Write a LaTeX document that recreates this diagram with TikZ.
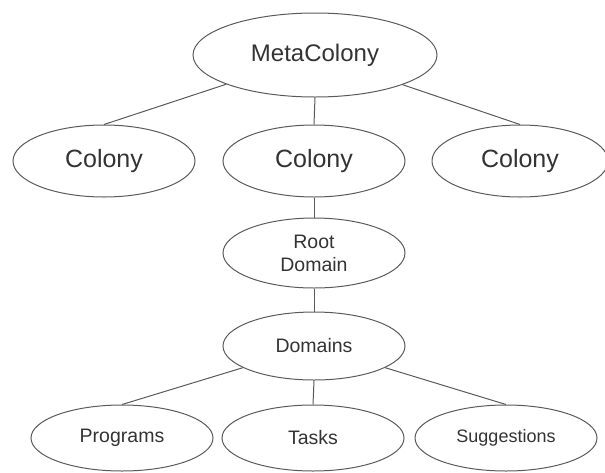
\documentclass[tikz,border=0pt]{standalone}
\usepackage{fontspec}
\setmainfont{Liberation Sans}
\usetikzlibrary{shapes,positioning}
\definecolor{lineGray}{HTML}{5A5A5A}
\definecolor{textGray}{HTML}{333333}
\tikzstyle{colonyTree} = [
  x=1pt,
  y=-1pt,
  line width=1pt,
  draw=lineGray,
  every node/.style = {
    shape=ellipse,
    draw=lineGray,
    text=textGray,
    align=center,
    inner sep=0pt,
    minimum width=182pt,
    minimum height=70pt,
    font=\fontsize{19.5}{23}\selectfont,},
  ]
\tikzstyle{topNode} = [
  minimum width=244pt,
  minimum height=84pt,
  font=\fontsize{24}{28}\selectfont]
\tikzstyle{colonyNode} = [
  minimum height=72pt,
  font=\fontsize{25}{29}\selectfont]

\begin{document}
\begin{tikzpicture}[colonyTree]
  \useasboundingbox (0,0) rectangle (605,472);
  \node[topNode] (meta) at (315,55) {MetaColony};
  \node[colonyNode] (colonyA) at (104,161) {Colony};
  \node[colonyNode] (colonyB) at (314,161) {Colony};
  \node[colonyNode, minimum width=176pt] (colonyC) at (520,161) {Colony};
  \node (root) at (314,253) {Root\\Domain};
  \node[minimum height=68pt] (domains) at (314,346) {Domains};
  \node[minimum height=66pt] (programs) at (122,438) {Programs};
  \node[minimum height=66pt] (tasks) at (313,438) {Tasks};
  \node[minimum height=66pt, font=\fontsize{18}{22}\selectfont]
    (suggestions) at (506,438) {Suggestions};
  \draw (meta) -- (colonyA.north);
  \draw (meta.south) -- (colonyB.north);
  \draw (meta) -- (colonyC.north);
  \draw (colonyB.south) -- (root.north);
  \draw (root.south) -- (domains.north);
  \draw (domains) -- (programs.north);
  \draw (domains.south) -- (tasks.north);
  \draw (domains) -- (suggestions.north);
\end{tikzpicture}
\end{document}
